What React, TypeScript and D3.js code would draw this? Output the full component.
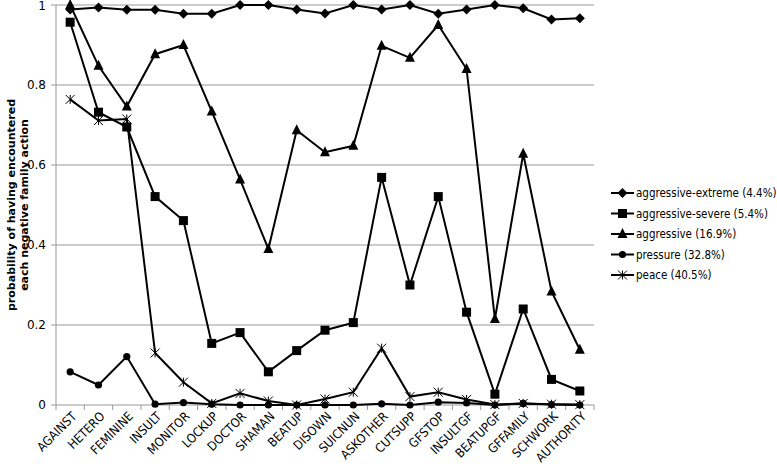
import React from "react";
import * as d3 from "d3";

const categories = [
  "AGAINST", "HETERO", "FEMININE", "INSULT", "MONITOR", "LOCKUP", "DOCTOR",
  "SHAMAN", "BEATUP", "DISOWN", "SUICNUN", "ASKOTHER", "CUTSUPP", "GFSTOP",
  "INSULTGF", "BEATUPGF", "GFFAMILY", "SCHWORK", "AUTHORITY",
];

const extremeValues = [0.989, 0.994, 0.988, 0.988, 0.978, 0.978, 1.0, 1.0, 0.989, 0.979, 1.0, 0.989, 1.0, 0.978, 0.989, 1.0, 0.992, 0.964, 0.967];
const severeValues = [0.957, 0.732, 0.695, 0.521, 0.461, 0.154, 0.181, 0.083, 0.136, 0.187, 0.206, 0.569, 0.3, 0.521, 0.232, 0.027, 0.24, 0.064, 0.035];
const aggressiveValues = [1.0, 0.848, 0.746, 0.877, 0.9, 0.734, 0.564, 0.39, 0.687, 0.632, 0.648, 0.898, 0.868, 0.95, 0.84, 0.215, 0.628, 0.284, 0.138];
const pressureValues = [0.083, 0.05, 0.121, 0.002, 0.006, 0.002, 0, 0, 0, 0, 0, 0.003, 0, 0.007, 0.005, 0, 0.004, 0.001, 0];
const peaceValues = [0.764, 0.711, 0.715, 0.13, 0.057, 0.004, 0.029, 0.01, 0.0, 0.015, 0.032, 0.142, 0.021, 0.032, 0.014, 0.001, 0.004, 0.002, 0.001];

const seriesNames = [
  "aggressive-extreme (4.4%)",
  "aggressive-severe (5.4%)",
  "aggressive (16.9%)",
  "pressure (32.8%)",
  "peace (40.5%)",
];
const seriesValues = [extremeValues, severeValues, aggressiveValues, pressureValues, peaceValues];
const markerKinds = ["diamond", "square", "triangle", "circle", "star"];

const yTicks = [0, 0.2, 0.4, 0.6, 0.8, 1];

const width = 777;
const height = 466;
const font = "'DejaVu Sans', sans-serif";
const condensed = "'DejaVu Sans Condensed', 'DejaVu Sans', sans-serif";

function Marker({ kind, x, y }: { kind: string; x: number; y: number }) {
  if (kind === "diamond") {
    const r = 5;
    return <path d={`M${x},${y - r}L${x + r},${y}L${x},${y + r}L${x - r},${y}Z`} fill="#000" />;
  }
  if (kind === "square") {
    const r = 4.5;
    return <rect x={x - r} y={y - r} width={r * 2} height={r * 2} fill="#000" />;
  }
  if (kind === "triangle") {
    return <path d={`M${x},${y - 6}L${x + 5},${y + 4}L${x - 5},${y + 4}Z`} fill="#000" />;
  }
  if (kind === "circle") {
    return <circle cx={x} cy={y} r={3.6} fill="#000" />;
  }
  const r = 4.5;
  return (
    <path
      d={`M${x - r},${y - r}L${x + r},${y + r}M${x + r},${y - r}L${x - r},${y + r}M${x},${y - r}L${x},${y + r}`}
      stroke="#000"
      strokeWidth={1}
      fill="none"
    />
  );
}

export default function App() {
  const x = d3.scaleBand<string>().domain(categories).range([56, 594]).padding(0);
  const y = d3.scaleLinear().domain([0, 1]).range([405, 5]);
  const cx = (c: string) => (x(c) ?? 0) + x.bandwidth() / 2;

  const line = d3
    .line<number>()
    .x((_, i) => cx(categories[i]))
    .y((d) => y(d));

  const boundaries = categories.map((c) => x(c) ?? 0).concat([594]);

  return (
    <svg width={width} height={height} style={{ position: "absolute", left: 0, top: 0, fontFamily: font }}>
      <rect width={width} height={height} fill="#fff" />
      {yTicks.slice(1).map((t) => (
        <line key={t} x1={56} x2={594} y1={y(t)} y2={y(t)} stroke="#999" strokeWidth={1} />
      ))}
      <line x1={56} x2={56} y1={y(1)} y2={y(0)} stroke="#999" />
      <line x1={56} x2={594} y1={y(0)} y2={y(0)} stroke="#999" />
      {yTicks.map((t) => (
        <g key={t}>
          <line x1={51} x2={56} y1={y(t)} y2={y(t)} stroke="#999" />
          <text x={46} y={y(t)} dy={t === 1 ? "0.4em" : "0.35em"} textAnchor="end" fontSize={12} fill="#000">
            {String(t)}
          </text>
        </g>
      ))}
      {boundaries.map((b, i) => (
        <line key={i} x1={b} x2={b} y1={y(0)} y2={y(0) + 5} stroke="#999" />
      ))}
      {categories.map((c) => (
        <text
          key={c}
          transform={`translate(${cx(c) + 4},${y(0) + 9}) rotate(-45)`}
          textAnchor="end"
          dy="0.35em"
          fontSize={12.5}
          fontFamily={condensed}
          fill="#000"
        >
          {c}
        </text>
      ))}
      <g transform={`translate(0,${(y(0) + y(1)) / 2}) rotate(-90)`} fontWeight="bold" fontSize={11} textAnchor="middle">
        <text x={0} y={15}>probability of having encountered</text>
        <text x={0} y={28}>each negative family action</text>
      </g>
      {seriesValues.map((vals, s) => (
        <g key={s}>
          <path d={line(vals) ?? ""} fill="none" stroke="#000" strokeWidth={2} />
          {vals.map((v, i) => (
            <Marker key={i} kind={markerKinds[s]} x={cx(categories[i])} y={y(v)} />
          ))}
        </g>
      ))}
      {seriesNames.map((name, s) => {
        const ly = 193 + s * 20.5;
        return (
          <g key={name}>
            <line x1={611} x2={634} y1={ly} y2={ly} stroke="#000" strokeWidth={2} />
            <Marker kind={markerKinds[s]} x={622.5} y={ly} />
            <text x={636} y={ly} dy="0.35em" fontSize={11.5} fontFamily={condensed} fill="#000">
              {name}
            </text>
          </g>
        );
      })}
    </svg>
  );
}
